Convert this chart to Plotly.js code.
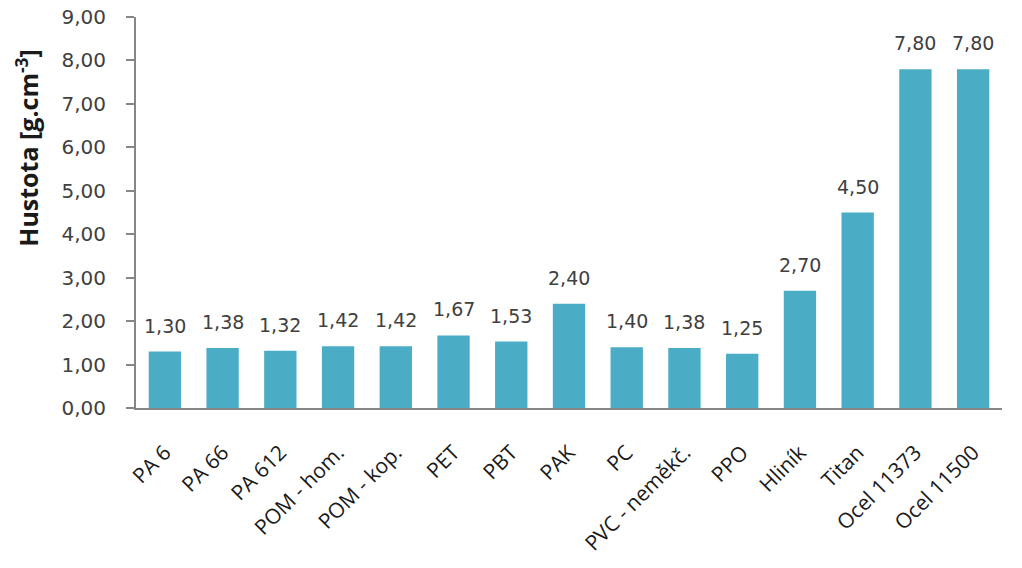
<!DOCTYPE html>
<html>
<head>
<meta charset="utf-8">
<script src="https://cdn.plot.ly/plotly-3.0.1.min.js"></script>
<style>
  html, body { margin: 0; padding: 0; background: #fff; }
  #chart { width: 1022px; height: 568px; }
</style>
</head>
<body>
<div id="chart"></div>
<script>
// materials and their density (g/cm3)
var materials = ['PA 6', 'PA 66', 'PA 612', 'POM - hom.', 'POM - kop.', 'PET', 'PBT', 'PAK',
                 'PC', 'PVC - neměkč.', 'PPO', 'Hliník', 'Titan', 'Ocel 11373', 'Ocel 11500'];
var density = [1.30, 1.38, 1.32, 1.42, 1.42, 1.67, 1.53, 2.40, 1.40, 1.38, 1.25, 2.70, 4.50, 7.80, 7.80];
var yTicks = [0, 1, 2, 3, 4, 5, 6, 7, 8, 9];

var numFont = 'Verdana, "DejaVu Sans", sans-serif';

var trace = {
    type: 'bar',
    x: materials,
    y: density,
    marker: { color: '#4bacc6' },
    hoverinfo: 'x+y'
};

// value labels, placed a little above each bar
var labels = materials.map(function (m, i) {
    return {
        x: m,
        y: density[i],
        xref: 'x',
        yref: 'y',
        text: density[i].toFixed(2).replace('.', ','),
        showarrow: false,
        yanchor: 'bottom',
        yshift: 13,
        font: { family: numFont, size: 19, color: '#404040' }
    };
});

labels.push({
    xref: 'paper',
    yref: 'paper',
    x: -0.125,
    y: 0.665,
    xanchor: 'center',
    yanchor: 'middle',
    textangle: -90,
    showarrow: false,
    text: 'Hustota [g.cm<sup>-3</sup>]',
    font: { family: 'Open Sans', size: 25, color: '#1a1a1a', weight: 'bold' }
});

Plotly.newPlot('chart', [trace], {
    width: 1022,
    height: 568,
    separators: ', ',
    paper_bgcolor: '#fff',
    plot_bgcolor: '#fff',
    bargap: 0.44,
    showlegend: false,
    margin: { l: 136, r: 20, t: 17, b: 160, autoexpand: false },
    annotations: labels,
    xaxis: {
        showline: true,
        linecolor: '#868686',
        linewidth: 2,
        ticks: '',
        tickangle: -45,
        ticklabelstandoff: 22,
        tickfont: { family: 'Open Sans', size: 21, color: '#1a1a1a' },
        showgrid: false,
        zeroline: false
    },
    yaxis: {
        range: [0, 9],
        tickvals: yTicks,
        tickformat: '.2f',
        showline: true,
        linecolor: '#868686',
        linewidth: 2,
        ticks: 'outside',
        ticklen: 8,
        tickwidth: 2,
        tickcolor: '#868686',
        ticklabelstandoff: 16,
        tickfont: { family: numFont, size: 20, color: '#404040' },
        showgrid: false,
        zeroline: false
    }
}, {
    displayModeBar: false
});
</script>
</body>
</html>
